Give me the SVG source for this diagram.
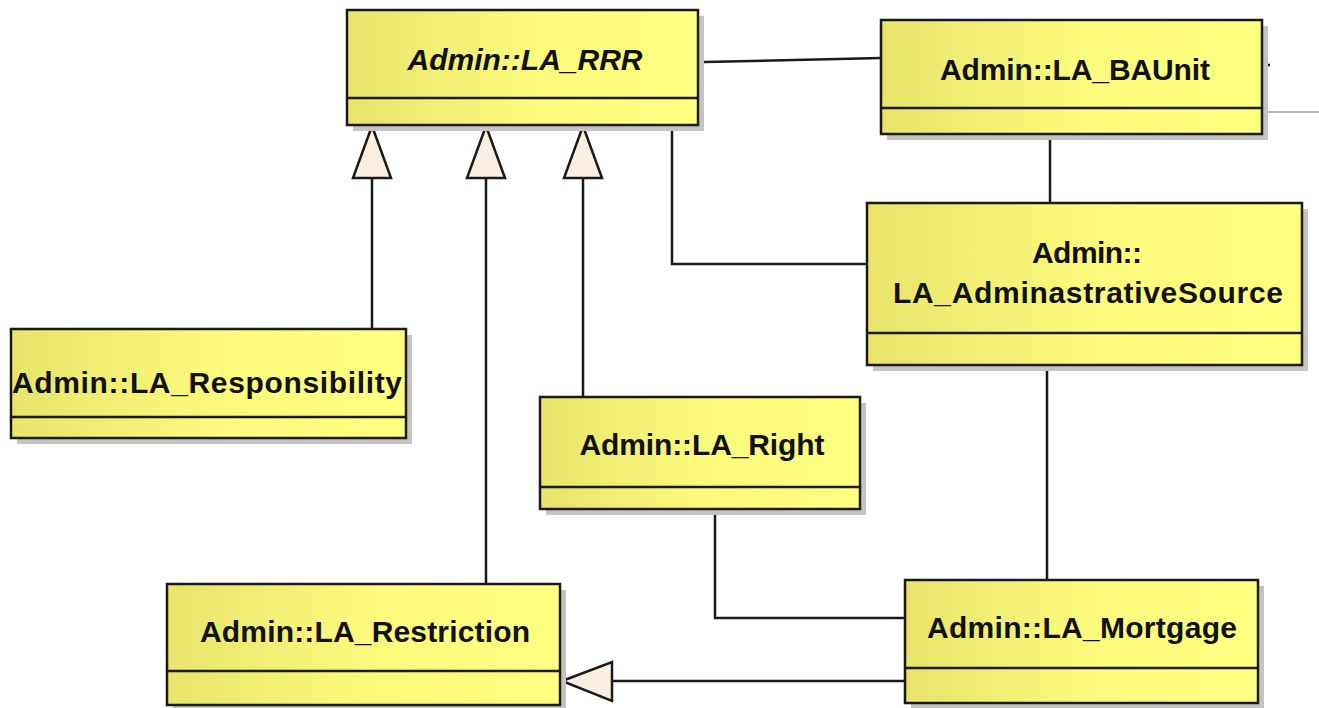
<svg xmlns="http://www.w3.org/2000/svg" width="1319" height="708" viewBox="0 0 1319 708">
<defs>
<linearGradient id="yg" x1="0" y1="0" x2="1" y2="0">
<stop offset="0" stop-color="#E8E46C"/>
<stop offset="0.5" stop-color="#FBFA7C"/>
<stop offset="1" stop-color="#FFFF80"/>
</linearGradient>
</defs>
<style>
.shadow{fill:#C4C4C4;}
.box{fill:url(#yg);stroke:#1a1a1a;stroke-width:2.5;}
.div{stroke:#1a1a1a;stroke-width:2.5;}
.lbl{font-family:"Liberation Sans",Arial,sans-serif;font-size:30px;font-weight:bold;fill:#111;text-anchor:middle;}
.it{font-style:italic;}
.conn{fill:none;stroke:#1a1a1a;stroke-width:2.5;}
.thin{fill:none;stroke:#A8A8A8;stroke-width:1.5;}
.tri{fill:#FAF0E2;stroke:#1a1a1a;stroke-width:2.5;stroke-linejoin:miter;}
</style>
<rect width="1319" height="708" fill="#FFFFFF"/>
<g id="connectors">
<line class="conn" x1="704" y1="62" x2="881" y2="58"/>
<line class="conn" x1="1264" y1="65" x2="1270" y2="65"/>
<line class="thin" x1="1264" y1="112" x2="1319" y2="112"/>
<line class="conn" x1="1050" y1="134" x2="1050" y2="203"/>
<polyline class="conn" points="672,128 672,264 867,264"/>
<line class="conn" x1="1047" y1="365" x2="1047" y2="580"/>
<polyline class="conn" points="715,509 715,618 905,618"/>
<line class="conn" x1="905" y1="681" x2="612" y2="681"/>
<polygon class="tri" points="562,681 612,662 612,701"/>
<line class="conn" x1="372" y1="178" x2="372" y2="329"/>
<polygon class="tri" points="372,126 353,178 391,178"/>
<line class="conn" x1="486" y1="178" x2="486" y2="584"/>
<polygon class="tri" points="486,126 467,178 505,178"/>
<line class="conn" x1="583" y1="178" x2="583" y2="397"/>
<polygon class="tri" points="583,126 564,178 602,178"/>
</g>
<g id="LA_RRR">
<rect class="shadow" x="353" y="16" width="351" height="115"/>
<rect class="box" x="347" y="10" width="351" height="115"/>
<line class="div" x1="347" y1="98" x2="698" y2="98"/>
<text class="lbl it" x="525" y="70" textLength="235">Admin::LA_RRR</text>
</g>
<g id="LA_BAUnit">
<rect class="shadow" x="887" y="26" width="381" height="114"/>
<rect class="box" x="881" y="20" width="381" height="114"/>
<line class="div" x1="881" y1="108" x2="1262" y2="108"/>
<text class="lbl" x="1075" y="80" textLength="270">Admin::LA_BAUnit</text>
</g>
<g id="LA_AdminastrativeSource">
<rect class="shadow" x="873" y="209" width="435" height="162"/>
<rect class="box" x="867" y="203" width="435" height="162"/>
<line class="div" x1="867" y1="333" x2="1302" y2="333"/>
<text class="lbl" x="1087" y="263" textLength="110">Admin::</text>
<text class="lbl" x="1088" y="303" textLength="390">LA_AdminastrativeSource</text>
</g>
<g id="LA_Responsibility">
<rect class="shadow" x="17" y="335" width="395" height="109"/>
<rect class="box" x="11" y="329" width="395" height="109"/>
<line class="div" x1="11" y1="417" x2="406" y2="417"/>
<text class="lbl" x="207" y="393" textLength="390">Admin::LA_Responsibility</text>
</g>
<g id="LA_Right">
<rect class="shadow" x="546" y="403" width="320" height="112"/>
<rect class="box" x="540" y="397" width="320" height="112"/>
<line class="div" x1="540" y1="487" x2="860" y2="487"/>
<text class="lbl" x="702" y="455" textLength="245">Admin::LA_Right</text>
</g>
<g id="LA_Restriction">
<rect class="shadow" x="173" y="590" width="393" height="121"/>
<rect class="box" x="167" y="584" width="393" height="121"/>
<line class="div" x1="167" y1="671" x2="560" y2="671"/>
<text class="lbl" x="365" y="642" textLength="330">Admin::LA_Restriction</text>
</g>
<g id="LA_Mortgage">
<rect class="shadow" x="911" y="586" width="353" height="123"/>
<rect class="box" x="905" y="580" width="353" height="123"/>
<line class="div" x1="905" y1="668" x2="1258" y2="668"/>
<text class="lbl" x="1082" y="638" textLength="310">Admin::LA_Mortgage</text>
</g>
</svg>
